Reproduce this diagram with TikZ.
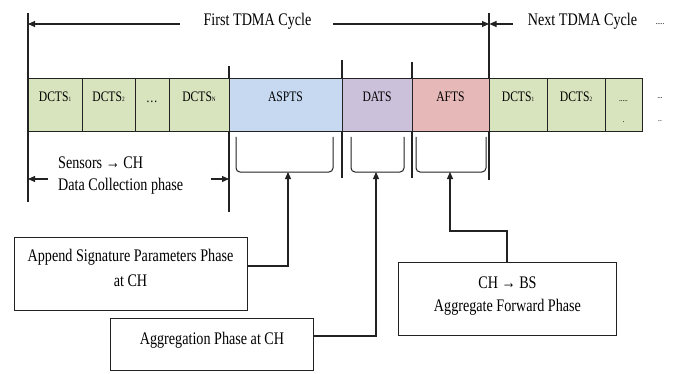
\documentclass[tikz,border=0pt]{standalone}
\usepackage{fontspec}
\setmainfont{Liberation Serif}[FakeStretch=0.8]
\usetikzlibrary{arrows.meta}
\definecolor{cgreen}{HTML}{D7E4BD}
\definecolor{cblue}{HTML}{C6D9F1}
\definecolor{cpurple}{HTML}{CCC1DA}
\definecolor{cpink}{HTML}{E6B9B8}
\definecolor{ink}{HTML}{222222}
\newcommand{\sbs}[1]{\raisebox{-0.5pt}{\fontsize{6.5}{6.5}\selectfont #1}}
\begin{document}
\begin{tikzpicture}[x=1pt,y=-1pt,
  ln/.style={draw=ink, line width=1.1pt},
  arr/.style={ln, -{Triangle[length=7pt,width=6pt]}},
  cell/.style={draw=ink, line width=1pt, minimum height=53pt, inner sep=0pt, outer sep=0pt, anchor=west},
  celltext/.style={font=\fontsize{14.5}{17}\selectfont, inner sep=0pt, anchor=base},
  bigtext/.style={font=\fontsize{17.7}{24}\selectfont, inner sep=0pt},
  dots/.style={font=\fontsize{9}{9}\selectfont, inner sep=0pt, anchor=base},
  box/.style={draw=ink, line width=0.9pt, inner sep=0pt, outer sep=0pt},
  brace/.style={draw=ink, line width=1pt, rounded corners=4pt}
]
\useasboundingbox (0,0) rectangle (676,374);
\fill[white] (0,0) rectangle (676,374);

% vertical markers
\draw[ln] (28,13) -- (28,202);
\draw[ln] (229,66) -- (229,212);
\draw[ln] (342,60) -- (342,178);
\draw[ln] (412,62) -- (412,178);
\draw[ln] (489,13) -- (489,180);

% slots
\node[cell, fill=cgreen, minimum width=54pt] (c1) at (28,105.5) {};
\node[cell, fill=cgreen, minimum width=53pt] (c2) at (c1.east) {};
\node[cell, fill=cgreen, minimum width=34pt] (c3) at (c2.east) {};
\node[cell, fill=cgreen, minimum width=60pt] (c4) at (c3.east) {};
\node[cell, fill=cblue, minimum width=113pt] (aspts) at (c4.east) {};
\node[cell, fill=cpurple, minimum width=70pt] (dats) at (aspts.east) {};
\node[cell, fill=cpink, minimum width=77pt] (afts) at (dats.east) {};
\node[cell, fill=cgreen, minimum width=58pt] (n1) at (afts.east) {};
\node[cell, fill=cgreen, minimum width=58pt] (n2) at (n1.east) {};
\node[cell, fill=cgreen, minimum width=37pt] (n3) at (n2.east) {};

\coordinate (tb) at (0,101.5);
\node[celltext] (t1) at (c1 |- tb) {DCTS\sbs{1}};
\node[celltext] (t2) at (c2 |- tb) {DCTS\sbs{2}};
\node[celltext] (t3) at ([yshift=-1.5pt]c3 |- tb) {\dots};
\node[celltext] (t4) at (c4 |- tb) {DCTS\sbs{N}};
\node[celltext] (t5) at (aspts |- tb) {ASPTS};
\node[celltext] (t6) at (dats |- tb) {DATS};
\node[celltext] (t7) at (afts |- tb) {AFTS};
\node[celltext] (t8) at (n1 |- tb) {DCTS\sbs{1}};
\node[celltext] (t9) at (n2 |- tb) {DCTS\sbs{2}};
\node[dots] (t10) at (623.5,102) {.....};
\node[dots] (t11) at (623.5,123) {.};
\node[dots] (r1) at (660,99) {...};
\node[dots] (r2) at (660,122) {..};

% top cycle labels
\node[bigtext, anchor=base] (first) at (257.5,26) {First TDMA Cycle};
\node[bigtext, anchor=base] (next) at (582.5,26) {Next TDMA Cycle};
\node[dots] (ndots) at (660,25) {.....};
\coordinate (fa1) at (180,24);
\coordinate (fa0) at (28,24);
\coordinate (fb1) at (333,24);
\coordinate (fb0) at (489,24);
\coordinate (na1) at (513,24);
\coordinate (na0) at (489.5,24);
\draw[arr] (fa1) -- (fa0);
\draw[arr] (fb1) -- (fb0);
\draw[arr] (na1) -- (na0);

% data collection phase
\node[bigtext, font=\fontsize{17.7}{22}\selectfont, align=left, anchor=west] (sens) at (58,174.6)
  {\strut Sensors → CH\\\strut Data Collection phase};
\coordinate (sa1) at (48,179);
\coordinate (sa0) at (28,179);
\coordinate (sb1) at (211,179);
\coordinate (sb0) at (229,179);
\draw[arr] (sa1) -- (sa0);
\draw[arr] (sb1) -- (sb0);

% braces
\draw[brace] (236,137) -- (236,172) -- (333,172) -- (333,137);
\draw[brace] (351,137) -- (351,172) -- (404,172) -- (404,137);
\draw[brace] (416,137) -- (416,172) -- (486,172) -- (486,137);
\coordinate (bA) at (288,172);
\coordinate (bD) at (376,172);
\coordinate (bF) at (450,172);
\coordinate (kF) at (450,231);

% phase boxes
\node[box, minimum width=233pt, minimum height=73pt] (append) at (130.5,273.5) {};
\node[bigtext, font=\fontsize{17.7}{25}\selectfont, align=center] (appendt) at (130.5,269.2)
  {\strut Append Signature Parameters Phase\\\strut at CH};
\node[box, minimum width=203pt, minimum height=52pt] (agg) at (211.5,344) {};
\node[bigtext, anchor=base] (aggt) at (212,344.3) {Aggregation Phase at CH};
\node[box, minimum width=218pt, minimum height=73pt] (chbs) at (507,298.5) {};
\node[bigtext, font=\fontsize{17.7}{23.5}\selectfont, align=center] (chbst) at (507.5,295.4)
  {\strut CH → BS\\\strut Aggregate Forward Phase};

% connectors
\draw[arr] ([yshift=7.5pt]append.east) -| (bA);
\draw[arr] ([yshift=8pt]agg.east) -| (bD);
\draw[arr] (chbs.north) |- (kF) -- (bF);
\end{tikzpicture}
\end{document}
